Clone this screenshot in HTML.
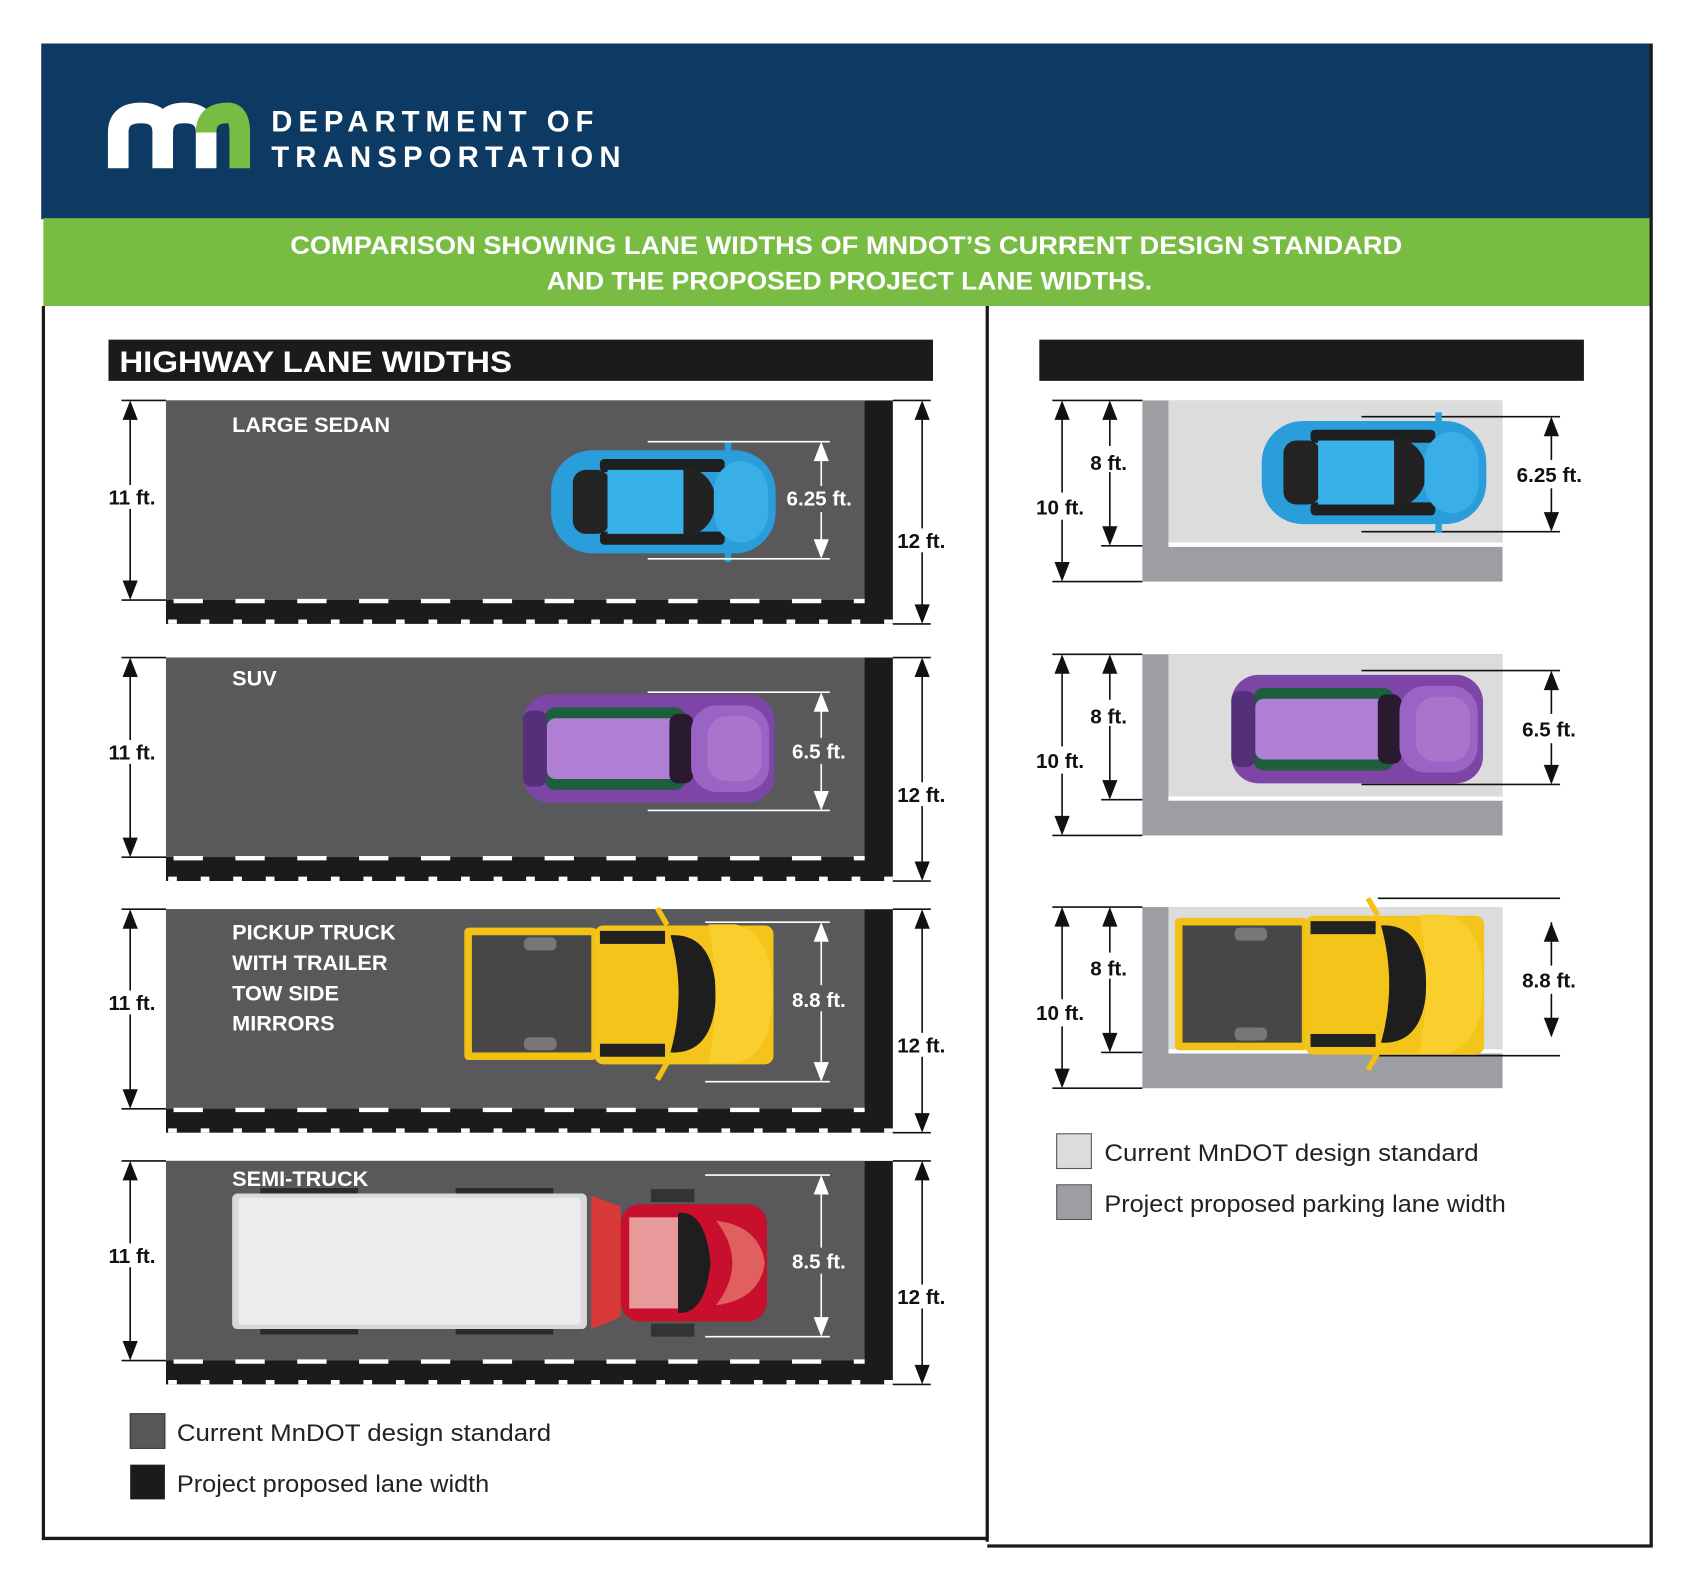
<!DOCTYPE html>
<html><head><meta charset="utf-8"><style>
html,body{margin:0;padding:0;background:#fff;}
svg{display:block;}
text{font-family:"Liberation Sans",sans-serif;}
</style></head><body>
<svg width="1700" height="1583" viewBox="0 0 1567 1459" xmlns="http://www.w3.org/2000/svg">
<defs>
<g id="sedan">
 <rect x="0" y="0" width="207" height="95" rx="38" fill="#2a9ddb"/>
 <rect x="45" y="8" width="115" height="12" rx="4" fill="#1f1f1f"/>
 <rect x="45" y="75" width="115" height="12" rx="4" fill="#1f1f1f"/>
 <rect x="20" y="18" width="34" height="59" rx="12" fill="#232323"/>
 <rect x="52" y="18" width="72" height="59" fill="#38b0e8"/>
 <path d="M122,14 Q150,20 152,47 Q150,75 122,81 Z" fill="#222"/>
 <rect x="150" y="10" width="50" height="75" rx="28" fill="#3aaee6"/>
 <rect x="160" y="-8" width="6" height="14" fill="#2a9ddb"/>
 <rect x="160" y="89" width="6" height="14" fill="#2a9ddb"/>
</g>
<g id="suv">
 <rect x="0" y="0" width="232" height="100" rx="25" fill="#7c45a6"/>
 <rect x="20" y="12" width="130" height="76" rx="10" fill="#1d5e3c"/>
 <rect x="22" y="22" width="130" height="56" rx="8" fill="#b07fd4"/>
 <rect x="0" y="15" width="22" height="70" rx="8" fill="#55307a"/>
 <rect x="135" y="18" width="22" height="64" rx="8" fill="#2a1a30"/>
 <rect x="155" y="10" width="72" height="80" rx="24" fill="#9a64c4"/>
 <rect x="170" y="20" width="50" height="60" rx="18" fill="#a874cc"/>
</g>
<g id="truck">
 <rect x="0" y="5" width="122" height="122" rx="4" fill="#f2c114"/>
 <rect x="7" y="12" width="110" height="108" fill="#474747"/>
 <rect x="55" y="14" width="30" height="12" rx="5" fill="#777"/>
 <rect x="55" y="106" width="30" height="12" rx="5" fill="#777"/>
 <rect x="120" y="3" width="165" height="128" rx="8" fill="#f4c41a"/>
 <rect x="125" y="8" width="60" height="12" fill="#222"/>
 <rect x="125" y="112" width="60" height="12" fill="#222"/>
 <path d="M190,12 Q230,10 232,66 Q230,122 190,120 Q205,66 190,12 Z" fill="#1e1e1e"/>
 <path d="M225,2 L250,2 Q284,10 284,66 Q284,122 250,130 L225,130 Q238,66 225,2 Z" fill="#f8cf2c"/>
 <rect x="180" y="-14" width="5" height="18" fill="#f2c114" transform="rotate(-30 182 -5)"/>
 <rect x="180" y="128" width="5" height="18" fill="#f2c114" transform="rotate(30 182 137)"/>
</g>
<g id="lane">
 <rect x="153" y="0" width="670" height="206" fill="#1c1a1b"/>
 <rect x="153" y="0" width="644" height="184" fill="#59595b"/>
 <line x1="160" y1="185" x2="797" y2="185" stroke="#fff" stroke-width="4" stroke-dasharray="27 30"/>
 <line x1="155" y1="204" x2="823" y2="204" stroke="#fff" stroke-width="4" stroke-dasharray="8 22"/>
 <line x1="112" y1="0" x2="153" y2="0" stroke="#111" stroke-width="1.5"/>
 <line x1="112" y1="184" x2="153" y2="184" stroke="#111" stroke-width="1.5"/>
 <line x1="120" y1="10" x2="120" y2="174" stroke="#111" stroke-width="1.5"/>
 <path d="M113,18 L120,0 L127,18 Z M113,166 L120,184 L127,166 Z" fill="#111"/>
 <line x1="823" y1="0" x2="858" y2="0" stroke="#111" stroke-width="1.5"/>
 <line x1="823" y1="206" x2="858" y2="206" stroke="#111" stroke-width="1.5"/>
 <line x1="850" y1="10" x2="850" y2="196" stroke="#111" stroke-width="1.5"/>
 <path d="M843,18 L850,0 L857,18 Z M843,188 L850,206 L857,188 Z" fill="#111"/>
</g>
<g id="panel">
 <rect x="1053" y="0" width="332" height="167" fill="#9c9ea1"/>
 <rect x="1077" y="0" width="308" height="131" fill="#dcdcdd"/>
 <rect x="1077" y="131" width="308" height="4" fill="#fff"/>
 <g stroke="#111" stroke-width="1.5" fill="#111">
  <line x1="970" y1="0" x2="1053" y2="0"/><line x1="970" y1="167" x2="1053" y2="167"/><line x1="1015" y1="134" x2="1053" y2="134"/>
  <line x1="979" y1="10" x2="979" y2="85"/><line x1="979" y1="110" x2="979" y2="157"/>
  <line x1="1023" y1="10" x2="1023" y2="42"/><line x1="1023" y1="66" x2="1023" y2="124"/>
  <path d="M972,18 L979,0 L986,18 Z M972,149 L979,167 L986,149 Z M1016,18 L1023,0 L1030,18 Z M1016,116 L1023,134 L1030,116 Z" stroke="none"/>
 </g>
</g>
</defs>

<rect x="38" y="40" width="1484" height="162" fill="#0c3a62"/>
<rect x="40" y="201" width="1482" height="81" fill="#78bc43"/>
<path d="M109,155 V122 Q109,104 130,104 Q150,104 150,122 V155 M150,122 Q150,104 170,104 Q190,104 190,122 V155" stroke="#fff" stroke-width="19" fill="none"/>
<path d="M190,122 Q190,104 210,104 Q221,104 221,122 V155" stroke="#78bc43" stroke-width="19" fill="none"/>
<text x="250" y="121" font-size="27" font-weight="bold" fill="#fff" textLength="297" lengthAdjust="spacing">DEPARTMENT OF</text>
<text x="250" y="154" font-size="27" font-weight="bold" fill="#fff" textLength="322" lengthAdjust="spacing">TRANSPORTATION</text>
<text x="780" y="234" font-size="23" font-weight="bold" fill="#fff" text-anchor="middle" textLength="1025" lengthAdjust="spacingAndGlyphs">COMPARISON SHOWING LANE WIDTHS OF MNDOT’S CURRENT DESIGN STANDARD</text>
<text x="783" y="267" font-size="23" font-weight="bold" fill="#fff" text-anchor="middle" textLength="558" lengthAdjust="spacingAndGlyphs">AND THE PROPOSED PROJECT LANE WIDTHS.</text>

<g stroke="#1a1a1a" stroke-width="3" fill="none">
 <path d="M40,282 V1418 H910"/>
 <path d="M910,282 V1421"/>
 <path d="M1522,40 V1425 H910"/>
</g>

<rect x="100" y="313" width="760" height="38" fill="#1c1a1b"/>
<text x="110" y="343" font-size="27" font-weight="bold" fill="#fff" textLength="362" lengthAdjust="spacingAndGlyphs">HIGHWAY LANE WIDTHS</text>
<rect x="958" y="313" width="502" height="38" fill="#1c1a1b"/>

<use href="#lane" y="369"/>
<use href="#lane" y="606"/>
<use href="#lane" y="838"/>
<use href="#lane" y="1070"/>

<g font-weight="bold" font-size="19" fill="#111">
 <rect x="98" y="447" width="46" height="22" fill="#fff"/><text x="100" y="465">11 ft.</text>
 <rect x="98" y="682" width="46" height="22" fill="#fff"/><text x="100" y="700">11 ft.</text>
 <rect x="98" y="913" width="46" height="22" fill="#fff"/><text x="100" y="931">11 ft.</text>
 <rect x="98" y="1146" width="46" height="22" fill="#fff"/><text x="100" y="1164">11 ft.</text>
 <rect x="826" y="487" width="50" height="22" fill="#fff"/><text x="827" y="505">12 ft.</text>
 <rect x="826" y="721" width="50" height="22" fill="#fff"/><text x="827" y="739">12 ft.</text>
 <rect x="826" y="952" width="50" height="22" fill="#fff"/><text x="827" y="970">12 ft.</text>
 <rect x="826" y="1184" width="50" height="22" fill="#fff"/><text x="827" y="1202">12 ft.</text>
</g>

<g fill="#fff" font-size="20" font-weight="bold">
 <text x="214" y="398">LARGE SEDAN</text>
 <text x="214" y="632">SUV</text>
 <text x="214" y="866">PICKUP TRUCK</text>
 <text x="214" y="894">WITH TRAILER</text>
 <text x="214" y="922">TOW SIDE</text>
 <text x="214" y="950">MIRRORS</text>
 <text x="214" y="1093">SEMI-TRUCK</text>
</g>

<use href="#sedan" x="508" y="415"/>
<use href="#suv" x="482" y="640"/>
<use href="#truck" x="428" y="850"/>
<rect x="240" y="1095" width="90" height="8" fill="#2a2a2a"/><rect x="420" y="1095" width="90" height="8" fill="#2a2a2a"/>
<rect x="240" y="1222" width="90" height="8" fill="#2a2a2a"/><rect x="420" y="1222" width="90" height="8" fill="#2a2a2a"/>
<rect x="214" y="1100" width="327" height="125" rx="5" fill="#d9d9d9"/>
<rect x="220" y="1104" width="315" height="117" rx="3" fill="#ececec"/>
<path d="M545,1102 L572,1112 L572,1214 L545,1225 Z" fill="#d83a3a"/>
<rect x="572" y="1110" width="135" height="108" rx="18" fill="#c8102e"/>
<rect x="580" y="1122" width="45" height="84" fill="#e89a9a"/>
<path d="M625,1118 Q650,1115 655,1164 Q650,1212 625,1210 Z" fill="#1e1e1e"/>
<path d="M660,1125 Q700,1130 705,1164 Q700,1198 660,1203 Q690,1164 660,1125 Z" fill="#e06060"/>
<rect x="600" y="1096" width="40" height="12" fill="#333"/><rect x="600" y="1220" width="40" height="12" fill="#333"/>

<g stroke="#fff" stroke-width="1.5" fill="#fff">
 <line x1="597" y1="407" x2="765" y2="407"/><line x1="597" y1="515" x2="765" y2="515"/>
 <line x1="757" y1="420" x2="757" y2="448"/><line x1="757" y1="472" x2="757" y2="502"/>
 <path d="M750,425 L757,407 L764,425 Z M750,497 L757,515 L764,497 Z" stroke="none"/>
 <line x1="597" y1="638" x2="765" y2="638"/><line x1="597" y1="747" x2="765" y2="747"/>
 <line x1="757" y1="650" x2="757" y2="680"/><line x1="757" y1="704" x2="757" y2="735"/>
 <path d="M750,656 L757,638 L764,656 Z M750,729 L757,747 L764,729 Z" stroke="none"/>
 <line x1="650" y1="850" x2="765" y2="850"/><line x1="650" y1="997" x2="765" y2="997"/>
 <line x1="757" y1="860" x2="757" y2="908"/><line x1="757" y1="932" x2="757" y2="985"/>
 <path d="M750,868 L757,850 L764,868 Z M750,979 L757,997 L764,979 Z" stroke="none"/>
 <line x1="650" y1="1083" x2="765" y2="1083"/><line x1="650" y1="1232" x2="765" y2="1232"/>
 <line x1="757" y1="1095" x2="757" y2="1150"/><line x1="757" y1="1174" x2="757" y2="1220"/>
 <path d="M750,1101 L757,1083 L764,1101 Z M750,1214 L757,1232 L764,1214 Z" stroke="none"/>
</g>
<g fill="#fff" font-size="19" font-weight="bold">
 <text x="725" y="466">6.25 ft.</text>
 <text x="730" y="699">6.5 ft.</text>
 <text x="730" y="928">8.8 ft.</text>
 <text x="730" y="1169">8.5 ft.</text>
</g>

<use href="#panel" y="369"/>
<use href="#panel" y="603"/>
<use href="#panel" y="836"/>
<g stroke="#111" stroke-width="1.5" fill="#111">
 <line x1="1255" y1="384" x2="1438" y2="384"/><line x1="1255" y1="490" x2="1438" y2="490"/>
 <line x1="1430" y1="395" x2="1430" y2="424"/><line x1="1430" y1="450" x2="1430" y2="480"/>
 <path d="M1423,402 L1430,384 L1437,402 Z M1423,472 L1430,490 L1437,472 Z" stroke="none"/>
 <line x1="1255" y1="618" x2="1438" y2="618"/><line x1="1255" y1="723" x2="1438" y2="723"/>
 <line x1="1430" y1="630" x2="1430" y2="658"/><line x1="1430" y1="685" x2="1430" y2="712"/>
 <path d="M1423,636 L1430,618 L1437,636 Z M1423,705 L1430,723 L1437,705 Z" stroke="none"/>
 <line x1="1270" y1="828" x2="1438" y2="828"/><line x1="1270" y1="973" x2="1438" y2="973"/>
 <line x1="1430" y1="850" x2="1430" y2="890"/><line x1="1430" y1="916" x2="1430" y2="955"/>
 <path d="M1423,868 L1430,850 L1437,868 Z M1423,938 L1430,956 L1437,938 Z" stroke="none"/>
</g>
<g fill="#111" font-weight="bold" font-size="19">
 <text x="1005" y="433">8 ft.</text><text x="955" y="474">10 ft.</text>
 <text x="1005" y="667">8 ft.</text><text x="955" y="708">10 ft.</text>
 <text x="1005" y="899">8 ft.</text><text x="955" y="940">10 ft.</text>
 <text x="1398" y="444">6.25 ft.</text>
 <text x="1403" y="679">6.5 ft.</text>
 <text x="1403" y="910">8.8 ft.</text>
</g>
<use href="#sedan" x="1163" y="388"/>
<use href="#suv" x="1135" y="622"/>
<use href="#truck" x="1083" y="841"/>

<rect x="120" y="1303" width="32" height="32" fill="#58585a" stroke="#333" stroke-width="1"/>
<rect x="120" y="1350" width="32" height="32" fill="#1c1a1b"/>
<text x="163" y="1328" font-size="22" fill="#222" textLength="345" lengthAdjust="spacingAndGlyphs">Current MnDOT design standard</text>
<text x="163" y="1375" font-size="22" fill="#222" textLength="288" lengthAdjust="spacingAndGlyphs">Project proposed lane width</text>
<rect x="974" y="1045" width="32" height="32" fill="#dcdcdd" stroke="#555" stroke-width="1"/>
<rect x="974" y="1092" width="32" height="32" fill="#9c9ea1" stroke="#555" stroke-width="1"/>
<text x="1018" y="1070" font-size="22" fill="#222" textLength="345" lengthAdjust="spacingAndGlyphs">Current MnDOT design standard</text>
<text x="1018" y="1117" font-size="22" fill="#222" textLength="370" lengthAdjust="spacingAndGlyphs">Project proposed parking lane width</text>
</svg>
</body></html>
